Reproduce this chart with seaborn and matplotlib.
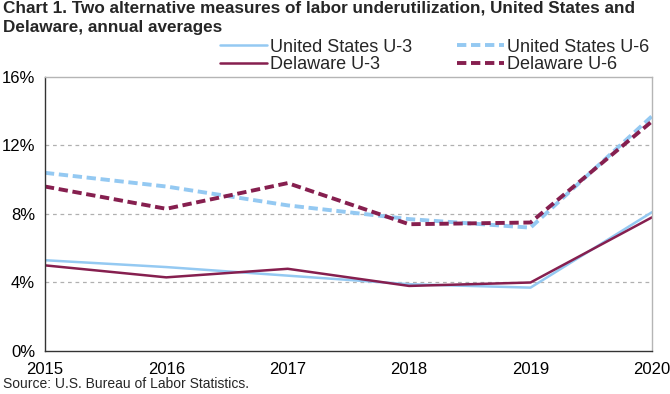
import pandas as pd
import matplotlib.pyplot as plt
import seaborn as sns
from matplotlib.lines import Line2D

years = [2015, 2016, 2017, 2018, 2019, 2020]
us_u3 = [5.3, 4.9, 4.4, 3.9, 3.7, 8.1]
us_u6 = [10.4, 9.6, 8.5, 7.7, 7.2, 13.7]
de_u3 = [5.0, 4.3, 4.8, 3.8, 4.0, 7.8]
de_u6 = [9.6, 8.3, 9.8, 7.4, 7.5, 13.4]
series_names = ["United States U-3", "United States U-6", "Delaware U-3", "Delaware U-6"]
yticks = [0, 4, 8, 12, 16]

df = pd.DataFrame({"year": years,
                   "United States U-3": us_u3,
                   "United States U-6": us_u6,
                   "Delaware U-3": de_u3,
                   "Delaware U-6": de_u6})
df_long = df.melt(id_vars="year", var_name="series", value_name="rate")

sns.set_style("white")
plt.rcParams["font.family"] = ["Liberation Sans", "DejaVu Sans"]

blue = "#94C9F2"
maroon = "#861F4F"
dash = (2.4, 1.2)
palette = {"United States U-3": blue, "United States U-6": blue,
           "Delaware U-3": maroon, "Delaware U-6": maroon}
dashed = {"United States U-3": False, "United States U-6": True,
          "Delaware U-3": False, "Delaware U-6": True}

fig = plt.figure(figsize=(6.7, 3.94), dpi=100)
ax = fig.add_axes([0.067, 0.109, 0.906, 0.696])

for name in series_names:
    sub = df_long[df_long["series"] == name]
    sns.lineplot(data=sub, x="year", y="rate", ax=ax, color=palette[name],
                 linewidth=2.8 if dashed[name] else 1.8, legend=False)
    if dashed[name]:
        ax.lines[-1].set_dashes(dash)

ax.set_xlim(2015, 2020)
ax.set_ylim(0, 16)
ax.set_yticks(yticks)
ax.set_yticklabels([f"{v}%" for v in yticks])
ax.set_xticks(years)
ax.set_xlabel("")
ax.set_ylabel("")
for y in [4, 8, 12]:
    ax.axhline(y, color="#b0b0b0", linestyle=(0, (3, 3)), linewidth=0.9, zorder=0)

for side in ["top", "right"]:
    ax.spines[side].set_color("#b5b5b5")
    ax.spines[side].set_linewidth(1.0)
for side in ["left", "bottom"]:
    ax.spines[side].set_color("#333333")
    ax.spines[side].set_linewidth(1.0)
ax.tick_params(axis="both", direction="out", length=4, width=1, color="#333333",
               labelsize=12, labelcolor="black", pad=3)
ax.tick_params(axis="x", pad=4)

handles = [
    Line2D([], [], color=blue, lw=1.8),
    Line2D([], [], color=maroon, lw=1.8),
    Line2D([], [], color=blue, lw=2.8, dashes=dash),
    Line2D([], [], color=maroon, lw=2.8, dashes=dash),
]
labels = ["United States U-3", "Delaware U-3", "United States U-6", "Delaware U-6"]
fig.legend(handles, labels, ncol=2, frameon=False, fontsize=13,
           loc="center left", bbox_to_anchor=(220 / 670, 1 - 56 / 394),
           borderpad=0, borderaxespad=0,
           handlelength=2.6, handletextpad=0.15, columnspacing=2.5,
           labelspacing=0.05)

fig.text(0.004, 0.998, "Chart 1. Two alternative measures of labor underutilization, United States and\nDelaware, annual averages",
         ha="left", va="top", fontsize=12.3, fontweight="bold", linespacing=1.38)
fig.text(0.004, 0.008, "Source: U.S. Bureau of Labor Statistics.", ha="left", va="bottom", fontsize=10)

fig.savefig("out.png", dpi=100)
